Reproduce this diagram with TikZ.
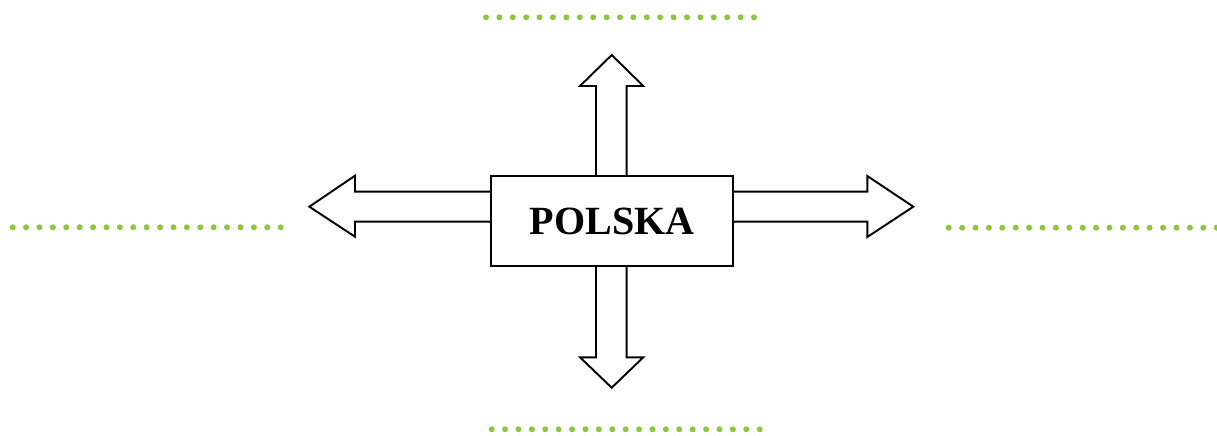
\documentclass[tikz,border=0pt]{standalone}
\usepackage{fontspec}
\setmainfont{Liberation Serif}
\usetikzlibrary{positioning}
\definecolor{leaf}{HTML}{8DC63F}

\begin{document}
\begin{tikzpicture}[x=0.02cm, y=-0.02cm,
  countrybox/.style={draw, line width=1.1pt, fill=white, inner sep=0pt,
    minimum width=4.84cm, minimum height=1.8cm,
    font=\fontsize{22.8}{27}\selectfont\bfseries},
  blockarrow/.style={draw, line width=1.1pt, fill=white, line join=miter},
  dotline/.style={draw=leaf, line width=0.12cm, line cap=round,
    dash pattern=on 0pt off 0.268cm}
]
\useasboundingbox (0,0) rectangle (1217,436);
% dotted blanks
\draw[dotline] (486,17.3) -- (754.6,17.3);
\draw[dotline] (12.7,227.3) -- (281,227.3);
\draw[dotline] (948.7,227.7) -- (1217.3,227.7);
\draw[dotline] (491.7,429.3) -- (760,429.3);
% arrows
\draw[blockarrow] (491,191.7) -- (355,191.7) -- (355,175.7) -- (309.3,206.7)
  -- (355,236.7) -- (355,221.7) -- (491,221.7);
\draw[blockarrow] (733,191.7) -- (867.3,191.7) -- (867.3,176) -- (913.3,206.7)
  -- (867.3,237) -- (867.3,221.7) -- (733,221.7);
\draw[blockarrow] (596,176) -- (596,86) -- (580,86) -- (611.7,55)
  -- (643.3,86) -- (626.7,86) -- (626.7,176);
\draw[blockarrow] (596,266) -- (596,357.3) -- (580,357.3) -- (611.7,387.7)
  -- (643.3,357.3) -- (626.7,357.3) -- (626.7,266);
% country
\node[countrybox] (polska) at (612,221) {POLSKA};
\end{tikzpicture}
\end{document}
